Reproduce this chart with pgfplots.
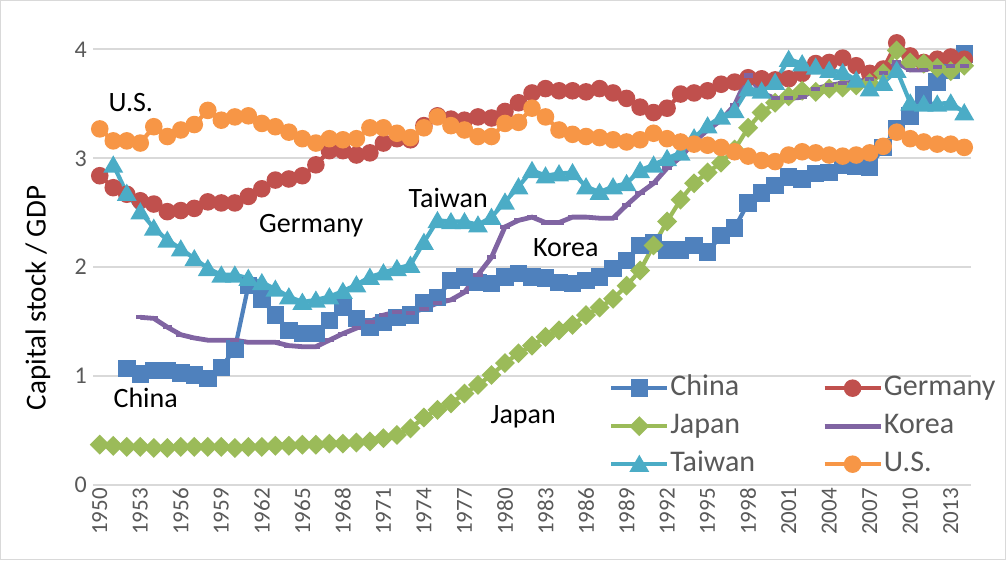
\documentclass[border=0pt]{standalone}
\usepackage{fontspec}
\setmainfont{Carlito}
\usepackage{pgfplots}
\usepackage{pgfplotstable}
\pgfplotsset{compat=1.18}

\definecolor{cChina}{HTML}{4F81BD}
\definecolor{cGermany}{HTML}{C0504D}
\definecolor{cJapan}{HTML}{9BBB59}
\definecolor{cKorea}{HTML}{8064A2}
\definecolor{cTaiwan}{HTML}{4BACC6}
\definecolor{cUS}{HTML}{F79646}
\definecolor{gridgray}{HTML}{D9D9D9}
\definecolor{labgray}{HTML}{595959}

\pgfplotstableread{
year v
1952 1.07
1953 1.02
1954 1.05
1955 1.05
1956 1.03
1957 1.01
1958 0.98
1959 1.08
1960 1.25
1961 1.83
1962 1.71
1963 1.56
1964 1.42
1965 1.39
1966 1.39
1967 1.51
1968 1.63
1969 1.53
1970 1.45
1971 1.49
1972 1.54
1973 1.56
1974 1.67
1975 1.72
1976 1.88
1977 1.91
1978 1.86
1979 1.85
1980 1.91
1981 1.94
1982 1.91
1983 1.90
1984 1.86
1985 1.85
1986 1.88
1987 1.91
1988 1.99
1989 2.06
1990 2.20
1991 2.22
1992 2.16
1993 2.16
1994 2.20
1995 2.14
1996 2.29
1997 2.36
1998 2.59
1999 2.68
2000 2.75
2001 2.83
2002 2.81
2003 2.86
2004 2.87
2005 2.94
2006 2.93
2007 2.92
2008 3.10
2009 3.27
2010 3.39
2011 3.58
2012 3.70
2013 3.81
2014 3.96
}\china

\pgfplotstableread{
year v
1950 2.84
1951 2.73
1952 2.67
1953 2.61
1954 2.58
1955 2.51
1956 2.52
1957 2.54
1958 2.60
1959 2.59
1960 2.59
1961 2.65
1962 2.72
1963 2.80
1964 2.81
1965 2.84
1966 2.94
1967 3.07
1968 3.07
1969 3.03
1970 3.05
1971 3.14
1972 3.18
1973 3.17
1974 3.30
1975 3.39
1976 3.36
1977 3.35
1978 3.38
1979 3.37
1980 3.43
1981 3.51
1982 3.60
1983 3.64
1984 3.62
1985 3.62
1986 3.61
1987 3.64
1988 3.60
1989 3.55
1990 3.47
1991 3.42
1992 3.46
1993 3.59
1994 3.60
1995 3.62
1996 3.68
1997 3.70
1998 3.74
1999 3.73
2000 3.72
2001 3.73
2002 3.78
2003 3.87
2004 3.88
2005 3.92
2006 3.85
2007 3.78
2008 3.82
2009 4.06
2010 3.94
2011 3.88
2012 3.91
2013 3.93
2014 3.91
}\germany

\pgfplotstableread{
year v
1950 0.37
1951 0.36
1952 0.35
1953 0.35
1954 0.34
1955 0.34
1956 0.35
1957 0.35
1958 0.35
1959 0.35
1960 0.34
1961 0.35
1962 0.35
1963 0.36
1964 0.36
1965 0.37
1966 0.37
1967 0.38
1968 0.38
1969 0.39
1970 0.40
1971 0.43
1972 0.46
1973 0.52
1974 0.62
1975 0.69
1976 0.75
1977 0.84
1978 0.92
1979 1.01
1980 1.12
1981 1.21
1982 1.28
1983 1.36
1984 1.42
1985 1.47
1986 1.56
1987 1.63
1988 1.71
1989 1.83
1990 1.97
1991 2.20
1992 2.42
1993 2.62
1994 2.77
1995 2.87
1996 2.96
1997 3.08
1998 3.28
1999 3.42
2000 3.51
2001 3.57
2002 3.62
2003 3.61
2004 3.64
2005 3.65
2006 3.67
2007 3.69
2008 3.78
2009 3.99
2010 3.88
2011 3.87
2012 3.83
2013 3.80
2014 3.85
}\japan

\pgfplotstableread{
year v
1953 1.54
1954 1.53
1955 1.45
1956 1.38
1957 1.35
1958 1.33
1959 1.33
1960 1.33
1961 1.31
1962 1.31
1963 1.31
1964 1.28
1965 1.27
1966 1.27
1967 1.33
1968 1.39
1969 1.44
1970 1.50
1971 1.56
1972 1.59
1973 1.58
1974 1.62
1975 1.67
1976 1.70
1977 1.77
1978 1.93
1979 2.09
1980 2.37
1981 2.43
1982 2.46
1983 2.41
1984 2.41
1985 2.46
1986 2.46
1987 2.45
1988 2.45
1989 2.57
1990 2.68
1991 2.77
1992 2.91
1993 3.01
1994 3.15
1995 3.26
1996 3.35
1997 3.49
1998 3.76
1999 3.60
2000 3.55
2001 3.55
2002 3.56
2003 3.64
2004 3.67
2005 3.69
2006 3.70
2007 3.73
2008 3.78
2009 3.88
2010 3.81
2011 3.81
2012 3.84
2013 3.85
2014 3.85
}\korea

\pgfplotstableread{
year v
1951 2.94
1952 2.68
1953 2.51
1954 2.36
1955 2.25
1956 2.17
1957 2.08
1958 1.99
1959 1.93
1960 1.93
1961 1.90
1962 1.86
1963 1.80
1964 1.73
1965 1.68
1966 1.70
1967 1.73
1968 1.78
1969 1.84
1970 1.91
1971 1.95
1972 1.99
1973 2.02
1974 2.23
1975 2.43
1976 2.42
1977 2.42
1978 2.39
1979 2.46
1980 2.60
1981 2.74
1982 2.89
1983 2.84
1984 2.86
1985 2.87
1986 2.74
1987 2.69
1988 2.74
1989 2.77
1990 2.89
1991 2.94
1992 3.00
1993 3.05
1994 3.19
1995 3.30
1996 3.38
1997 3.44
1998 3.64
1999 3.62
2000 3.70
2001 3.91
2002 3.87
2003 3.84
2004 3.81
2005 3.79
2006 3.72
2007 3.64
2008 3.69
2009 3.81
2010 3.51
2011 3.50
2012 3.50
2013 3.51
2014 3.42
}\taiwan

\pgfplotstableread{
year v
1950 3.27
1951 3.16
1952 3.16
1953 3.14
1954 3.29
1955 3.20
1956 3.26
1957 3.31
1958 3.44
1959 3.35
1960 3.38
1961 3.39
1962 3.32
1963 3.29
1964 3.24
1965 3.18
1966 3.14
1967 3.18
1968 3.17
1969 3.18
1970 3.28
1971 3.28
1972 3.23
1973 3.19
1974 3.28
1975 3.38
1976 3.30
1977 3.26
1978 3.20
1979 3.20
1980 3.32
1981 3.33
1982 3.46
1983 3.38
1984 3.26
1985 3.22
1986 3.20
1987 3.19
1988 3.17
1989 3.15
1990 3.17
1991 3.23
1992 3.18
1993 3.15
1994 3.13
1995 3.12
1996 3.10
1997 3.06
1998 3.02
1999 2.98
2000 2.97
2001 3.03
2002 3.06
2003 3.05
2004 3.03
2005 3.02
2006 3.03
2007 3.05
2008 3.11
2009 3.24
2010 3.18
2011 3.15
2012 3.13
2013 3.13
2014 3.10
}\us

\begin{document}
\begin{tikzpicture}[x=1pt,y=1pt]
\useasboundingbox (0,0) rectangle (1006,560);
\draw[gridgray, line width=1pt] (0.5,0.5) rectangle (1005.5,559.5);
\begin{axis}[
  at={(93pt,75pt)}, anchor=south west,
  scale only axis, width=878pt, height=465pt,
  xmin=1949.5, xmax=2014.5, ymin=0, ymax=4.27,
  axis line style={draw=none},
  major tick length=0pt,
  ytick={0,1,2,3,4},
  xtick={1950,1953,...,2013},
  ymajorgrids, grid style={gridgray, line width=1.8pt},
  /pgf/number format/assume math mode=true,
  /pgf/number format/1000 sep={},
  x tick label style={rotate=90, anchor=east, color=labgray,
    font=\fontsize{23}{23}\selectfont, inner sep=3pt},
  y tick label style={color=labgray, font=\fontsize{24}{24}\selectfont, inner sep=6pt},
  legend columns=2,
  legend cell align=left,
  legend image code/.code={\draw[mark repeat=2, mark phase=2]
    plot coordinates {(0pt,0pt) (28pt,0pt) (56pt,0pt)};},
  legend style={at={(0.5877,0.2409)}, anchor=north west, draw=none, fill=none,
    inner sep=0pt, row sep=8pt,
    font=\fontsize{30}{30}\selectfont, text=labgray,
    nodes={inner xsep=1pt, inner ysep=0pt, text height=22pt, text depth=8pt},
    /tikz/every even column/.append style={column sep=66pt}},
  clip=false,
]
\addplot[cChina, line width=4.2pt, mark=square*, mark size=7pt, mark options={line width=3.5pt}] table[x=year,y=v] {\china};
\addlegendentry{China}
\addplot[cGermany, line width=4.2pt, mark=*, mark size=7pt, mark options={line width=3.5pt}] table[x=year,y=v] {\germany};
\addlegendentry{Germany}
\addplot[cJapan, line width=4.2pt, mark=square*, mark size=5.3pt, mark options={rotate=45, line width=3.5pt}] table[x=year,y=v] {\japan};
\addlegendentry{Japan}
\addplot[cKorea, line width=4.8pt, mark=square*, mark size=3.6pt, mark options={yscale=0.3, line width=2pt}] table[x=year,y=v] {\korea};
\addlegendentry{Korea}
\addplot[cTaiwan, line width=4.2pt, mark=triangle*, mark size=8pt, mark options={yshift=-2pt, line width=3.5pt}] table[x=year,y=v] {\taiwan};
\addlegendentry{Taiwan}
\addplot[cUS, line width=4.2pt, mark=*, mark size=7pt, mark options={line width=3.5pt}] table[x=year,y=v] {\us};
\addlegendentry{U.S.}

\begin{scope}[font=\fontsize{28}{28}\selectfont]
\node at (axis cs:1952.3,3.51) {U.S.};
\node at (axis cs:1965.65,2.385) {Germany};
\node at (axis cs:1975.8,2.64) {Taiwan};
\node at (axis cs:1984.5,2.18) {Korea};
\node at (axis cs:1953.4,0.80) {China};
\node at (axis cs:1981.35,0.63) {Japan};
\end{scope}
\end{axis}
\node[rotate=90, font=\fontsize{29}{29}\selectfont] at (38,262) {Capital stock / GDP};
\end{tikzpicture}
\end{document}
